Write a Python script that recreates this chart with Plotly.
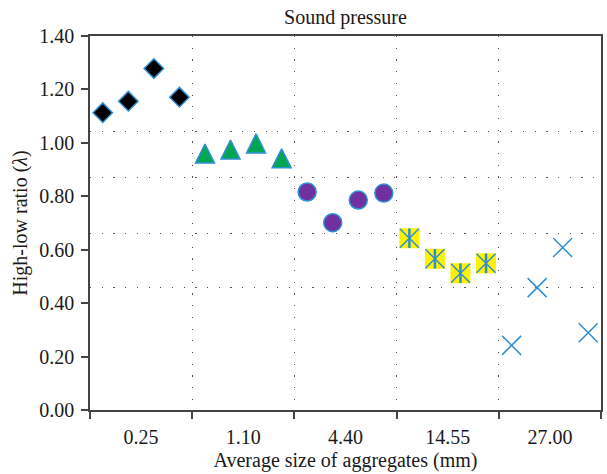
import plotly.graph_objects as go

# ---- data ----
categories = ["0.25", "1.10", "4.40", "14.55", "27.00"]
offsets = [-0.375, -0.125, 0.125, 0.375]
diamond_vals = [1.113, 1.156, 1.278, 1.171]
triangle_vals = [0.960, 0.975, 0.998, 0.942]
circle_vals = [0.816, 0.701, 0.786, 0.812]
square_vals = [0.643, 0.566, 0.512, 0.549]
cross_vals = [0.242, 0.458, 0.608, 0.289]
y_ticks = [0.0, 0.2, 0.4, 0.6, 0.8, 1.0, 1.2, 1.4]
h_grid_vals = [0.460, 0.661, 0.870, 1.041]

BLUE = "#2f8fd3"
FONT = "Liberation Serif"
FS = 20

def xs(ci):
    return [ci + o for o in offsets]

fig = go.Figure()

fig.add_trace(go.Scatter(x=xs(0), y=diamond_vals, mode="markers",
    marker=dict(symbol="diamond", size=15, color="black", line=dict(color=BLUE, width=1.5))))
fig.add_trace(go.Scatter(x=xs(1), y=triangle_vals, mode="markers",
    marker=dict(symbol="arrow-down", angle=180, standoff=9.5, size=19, color="#00a651",
                line=dict(color=BLUE, width=1.5))))
fig.add_trace(go.Scatter(x=xs(2), y=circle_vals, mode="markers",
    marker=dict(symbol="circle", size=18, color="#7030a0", line=dict(color=BLUE, width=1.5))))
fig.add_trace(go.Scatter(x=xs(3), y=square_vals, mode="markers",
    marker=dict(symbol="square", size=20, color="#fff200", line=dict(width=0))))
fig.add_trace(go.Scatter(x=xs(3), y=square_vals, mode="markers",
    marker=dict(symbol="x-thin-open", size=19, color=BLUE, line=dict(color=BLUE, width=1.5))))
fig.add_trace(go.Scatter(x=xs(3), y=square_vals, mode="markers",
    marker=dict(symbol="line-ns-open", size=14, color=BLUE, line=dict(color=BLUE, width=2.5))))
fig.add_trace(go.Scatter(x=xs(4), y=cross_vals, mode="markers",
    marker=dict(symbol="x-thin-open", size=19, color=BLUE, line=dict(color=BLUE, width=1.5))))

boundaries = [i - 0.5 for i in range(len(categories) + 1)]

fig.update_layout(
    width=607, height=474,
    margin=dict(l=90, r=4, t=36, b=64),
    plot_bgcolor="white", paper_bgcolor="white",
    showlegend=False,
    font=dict(family=FONT, size=FS, color="#1a1a1a"),
    title=dict(text="Sound pressure", x=0.5, xref="paper", xanchor="center",
               y=1 - 17 / 474, yref="container", yanchor="middle", font=dict(size=FS)),
)

fig.update_xaxes(
    range=[-0.5, len(categories) - 0.5],
    tickvals=list(range(len(categories))), ticktext=categories,
    ticks="", showgrid=False, zeroline=False,
    showline=True, linecolor="#444", linewidth=1.5, mirror=True,
    tickfont=dict(size=FS), ticklabelstandoff=8,
    minor=dict(tickvals=boundaries, ticks="outside", ticklen=7, tickwidth=1.5,
               tickcolor="#444", showgrid=True, gridcolor="#555", gridwidth=1.2,
               griddash="1.2px,10.5px"),
    title=dict(text="Average size of aggregates (mm)", font=dict(size=FS), standoff=6),
)
fig.update_yaxes(
    range=[0, 1.4],
    tickvals=y_ticks, tickformat=".2f",
    ticks="outside", ticklen=7, tickwidth=1.5, tickcolor="#444",
    showgrid=False, zeroline=False,
    showline=True, linecolor="#444", linewidth=1.5, mirror=True,
    tickfont=dict(size=FS), ticklabelstandoff=3,
    minor=dict(tickvals=h_grid_vals, ticks="", showgrid=True, gridcolor="#555",
               gridwidth=1.2, griddash="1.2px,10.5px"),
    title=dict(text="High-low ratio (<i>λ</i>)", font=dict(size=FS), standoff=6),
)

fig.write_html("out.html")
